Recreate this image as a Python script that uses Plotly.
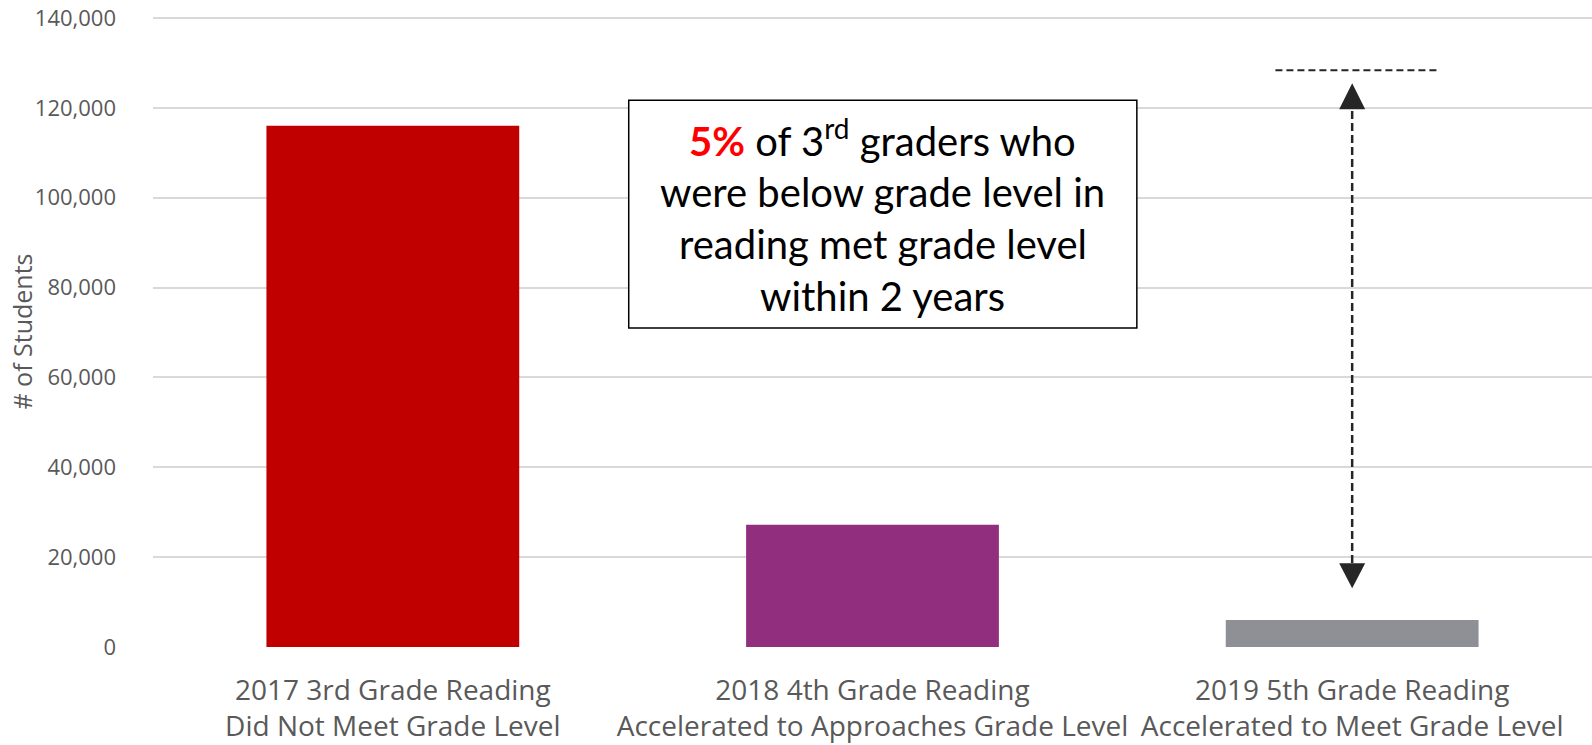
import plotly.graph_objects as go

categories = [
    "2017 3rd Grade Reading<br>Did Not Meet Grade Level",
    "2018 4th Grade Reading<br>Accelerated to Approaches Grade Level",
    "2019 5th Grade Reading<br>Accelerated to Meet Grade Level",
]
students = [116000, 27200, 6000]
bar_colors = ["#C00000", "#912F7E", "#8E9096"]

y_ticks = [0, 20000, 40000, 60000, 80000, 100000, 120000, 140000]
y_max = 140450

# annotation (arrow) levels, in # of students
ref_level = 128400
arrow_top_tip = 125500
arrow_bottom_tip = 13100
arrow_line_top = 119700
arrow_line_bottom = 18700

box_lines = [
    "<span style='color:#FF0000'><b>5%</b></span> of 3<sup>rd</sup> graders who",
    "were below grade level in",
    "reading met grade level",
    "within 2 years",
]

fig = go.Figure()
fig.add_trace(go.Bar(x=categories, y=students, marker=dict(color=bar_colors, line=dict(width=0)),
                     hoverinfo="x+y"))

TICK = "#595959"
fig.update_layout(
    width=1592, height=745,
    margin=dict(l=153, r=0, t=16, b=98),
    paper_bgcolor="white", plot_bgcolor="white",
    bargap=0.473,
    showlegend=False,
    font=dict(family="Open Sans", color=TICK),
    xaxis=dict(type="category", showgrid=False, zeroline=False, showline=False,
               ticks="", tickfont=dict(size=28, color=TICK), automargin=False,
               ticklabelstandoff=24),
    yaxis=dict(range=[0, y_max], tickvals=y_ticks, tickformat=",", showgrid=True,
               gridcolor="#D9D9D9", gridwidth=1.5, zeroline=False, showline=False,
               ticks="", tickfont=dict(size=22, color=TICK), automargin=False,
               ticklabelstandoff=36, ticklabeloverflow="allow"),
)

# y axis title
fig.add_annotation(text="# of Students", xref="paper", yref="paper",
                   x=-0.0917, y=0.5, textangle=-90, showarrow=False,
                   font=dict(size=25, color=TICK), xanchor="center", yanchor="middle")

# text box
fig.add_shape(type="rect", xref="paper", yref="paper", x0=0.3306, x1=0.6837,
              y0=0.5056, y1=0.8665, line=dict(color="black", width=1.5), fillcolor="white",
              layer="above")
line_ys = [0.806, 0.7218, 0.639, 0.5564]
for txt, yy in zip(box_lines, line_ys):
    fig.add_annotation(text=txt, xref="paper", yref="paper", x=0.5071, y=yy,
                       showarrow=False, xanchor="center", yanchor="middle",
                       font=dict(family="Lato", size=40, color="black"))

# dashed reference line and double arrow at the third bar
DARK = "#262626"
fig.add_shape(type="line", xref="x", yref="y", x0=1.84, x1=2.176,
              y0=ref_level, y1=ref_level, line=dict(color=DARK, width=2, dash="7px,4px"))
fig.add_shape(type="line", xref="x", yref="y", x0=2, x1=2,
              y0=arrow_line_bottom, y1=arrow_line_top,
              line=dict(color=DARK, width=2.5, dash="8px,4px"))
fig.add_shape(type="path", xref="x", yref="y", xsizemode="pixel", ysizemode="pixel",
              xanchor=2, yanchor=arrow_top_tip, path="M0,0 L-13,-26 L13,-26 Z",
              fillcolor=DARK, line=dict(width=0))
fig.add_shape(type="path", xref="x", yref="y", xsizemode="pixel", ysizemode="pixel",
              xanchor=2, yanchor=arrow_bottom_tip, path="M0,0 L-13,25 L13,25 Z",
              fillcolor=DARK, line=dict(width=0))

fig.write_html("out.html", config={"displayModeBar": False},
               post_script="document.body.style.margin='0px';")
